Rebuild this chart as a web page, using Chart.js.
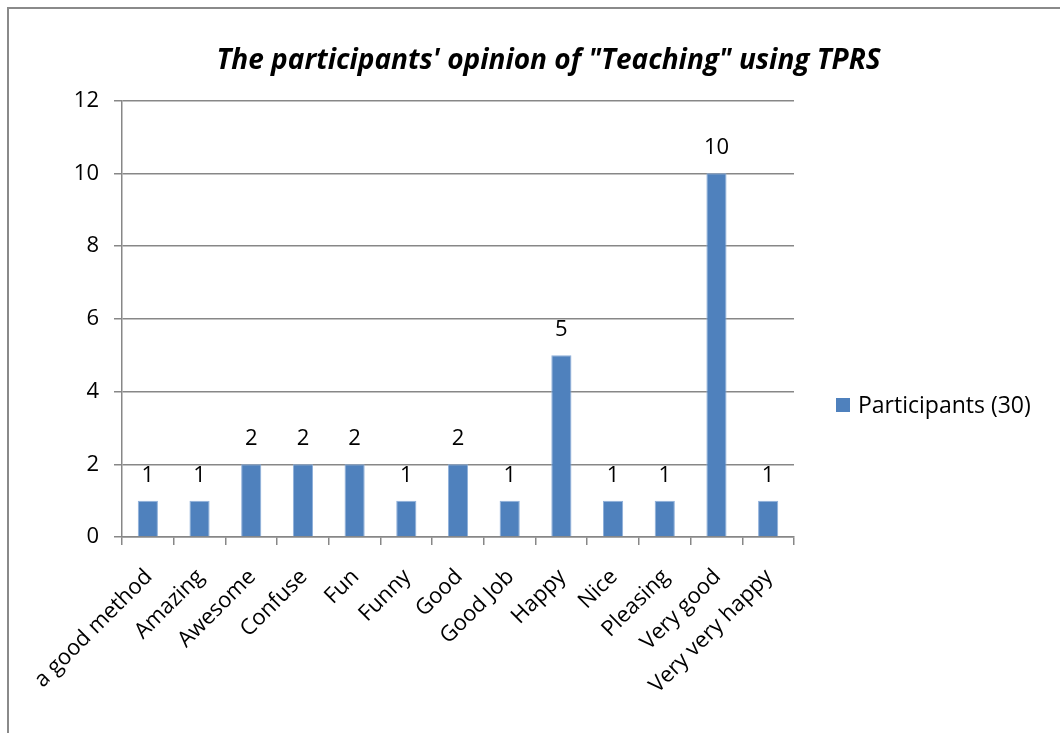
<!DOCTYPE html>
<html>
<head>
<meta charset="utf-8">
<script src="https://cdn.jsdelivr.net/npm/chart.js@4/dist/chart.umd.min.js"></script>
<style>
  html, body { margin: 0; padding: 0; background: #fff; }
  #marco {
    position: absolute; left: 7px; top: 7px;
    width: 1053px; height: 726px;
    border-left: 2px solid #8a8a8a; border-top: 2px solid #8a8a8a;
  }
  #lienzo { display: block; }
</style>
</head>
<body>
<div id="marco"><canvas id="lienzo" width="1051" height="724"></canvas></div>
<script>
// datos
const categorias = ['a good method', 'Amazing', 'Awesome', 'Confuse', 'Fun', 'Funny', 'Good',
    'Good Job', 'Happy', 'Nice', 'Pleasing', 'Very good', 'Very very happy'];
const participantes = [1, 1, 2, 2, 2, 1, 2, 1, 5, 1, 1, 10, 1];
const etiquetaSerie = 'Participants (30)';
const titulo = 'The participants\' opinion of "Teaching" using TPRS';
const ticksY = [0, 2, 4, 6, 8, 10, 12];

const fuente = "'Open Sans', 'Noto Sans', sans-serif";
const colorBarra = '#4f81bd';
const colorGris = '#878787';
const anchoLeyenda = 266;

// valores encima de cada barra
const pluginValores = {
    id: 'valores',
    afterDatasetsDraw(chart) {
        const ctx = chart.ctx;
        const meta = chart.getDatasetMeta(0);
        ctx.save();
        ctx.font = '22px ' + fuente;
        ctx.fillStyle = '#000';
        ctx.textAlign = 'center';
        ctx.textBaseline = 'alphabetic';
        meta.data.forEach((barra, i) => {
            ctx.fillText(String(chart.data.datasets[0].data[i]), barra.x, barra.y - 19);
        });
        ctx.restore();
    }
};

// caja de leyenda a la derecha, reservada en el layout del grafico
const pluginLeyenda = {
    id: 'leyendaDerecha',
    beforeInit(chart) {
        const caja = {
            position: 'right',
            weight: 10,
            fullSize: false,
            options: {},
            isHorizontal() { return false; },
            update(maxWidth, maxHeight) {
                this.width = anchoLeyenda;
                this.height = maxHeight;
            },
            draw() {
                const ctx = chart.ctx;
                const x = this.left + 42;
                const y = chart.chartArea.bottom - 132;
                ctx.save();
                ctx.fillStyle = colorBarra;
                ctx.fillRect(x, y - 7, 14, 14);
                ctx.font = '23px ' + fuente;
                ctx.fillStyle = '#000';
                ctx.textAlign = 'left';
                ctx.textBaseline = 'middle';
                ctx.fillText(chart.data.datasets[0].label, x + 22, y + 1);
                ctx.restore();
            },
        };
        Chart.layouts.addBox(chart, caja);
    }
};

const ctx = document.getElementById('lienzo').getContext('2d');
new Chart(ctx, {
    type: 'bar',
    data: {
        labels: categorias,
        datasets: [{
            label: etiquetaSerie,
            data: participantes,
            backgroundColor: colorBarra,
            borderColor: '#8fb0da',
            borderWidth: 1,
            categoryPercentage: 1,
            barPercentage: 0.39,
        }],
    },
    options: {
        responsive: false,
        animation: false,
        layout: { padding: { left: 28, right: 0, top: 0, bottom: 0 } },
        plugins: {
            legend: { display: false },
            tooltip: { enabled: false },
            title: {
                display: true,
                text: titulo,
                color: '#000',
                font: { family: fuente, size: 28, weight: 'bold', style: 'italic' },
                padding: { top: 35, bottom: 23 },
            },
        },
        scales: {
            x: {
                offset: true,
                grid: {
                    offset: true,
                    drawOnChartArea: false,
                    drawTicks: true,
                    tickLength: 8,
                    color: colorGris,
                    lineWidth: 1.5,
                },
                border: { color: colorGris, width: 1.5 },
                ticks: {
                    color: '#000',
                    font: { family: fuente, size: 22 },
                    minRotation: 45,
                    maxRotation: 45,
                    autoSkip: false,
                    padding: 19,
                    labelOffset: 1,
                },
                afterFit(escala) { escala.height = 196; },
            },
            y: {
                min: 0,
                max: 12,
                afterBuildTicks(escala) { escala.ticks = ticksY.map((v) => ({ value: v })); },
                grid: {
                    color: colorGris,
                    lineWidth: 1.5,
                    drawTicks: true,
                    tickLength: 8,
                },
                border: { color: colorGris, width: 1.5 },
                ticks: {
                    color: '#000',
                    font: { family: fuente, size: 22 },
                    padding: 15,
                },
                afterFit(escala) { escala.width = 85; },
            },
        },
    },
    plugins: [pluginValores, pluginLeyenda],
});
</script>
</body>
</html>
